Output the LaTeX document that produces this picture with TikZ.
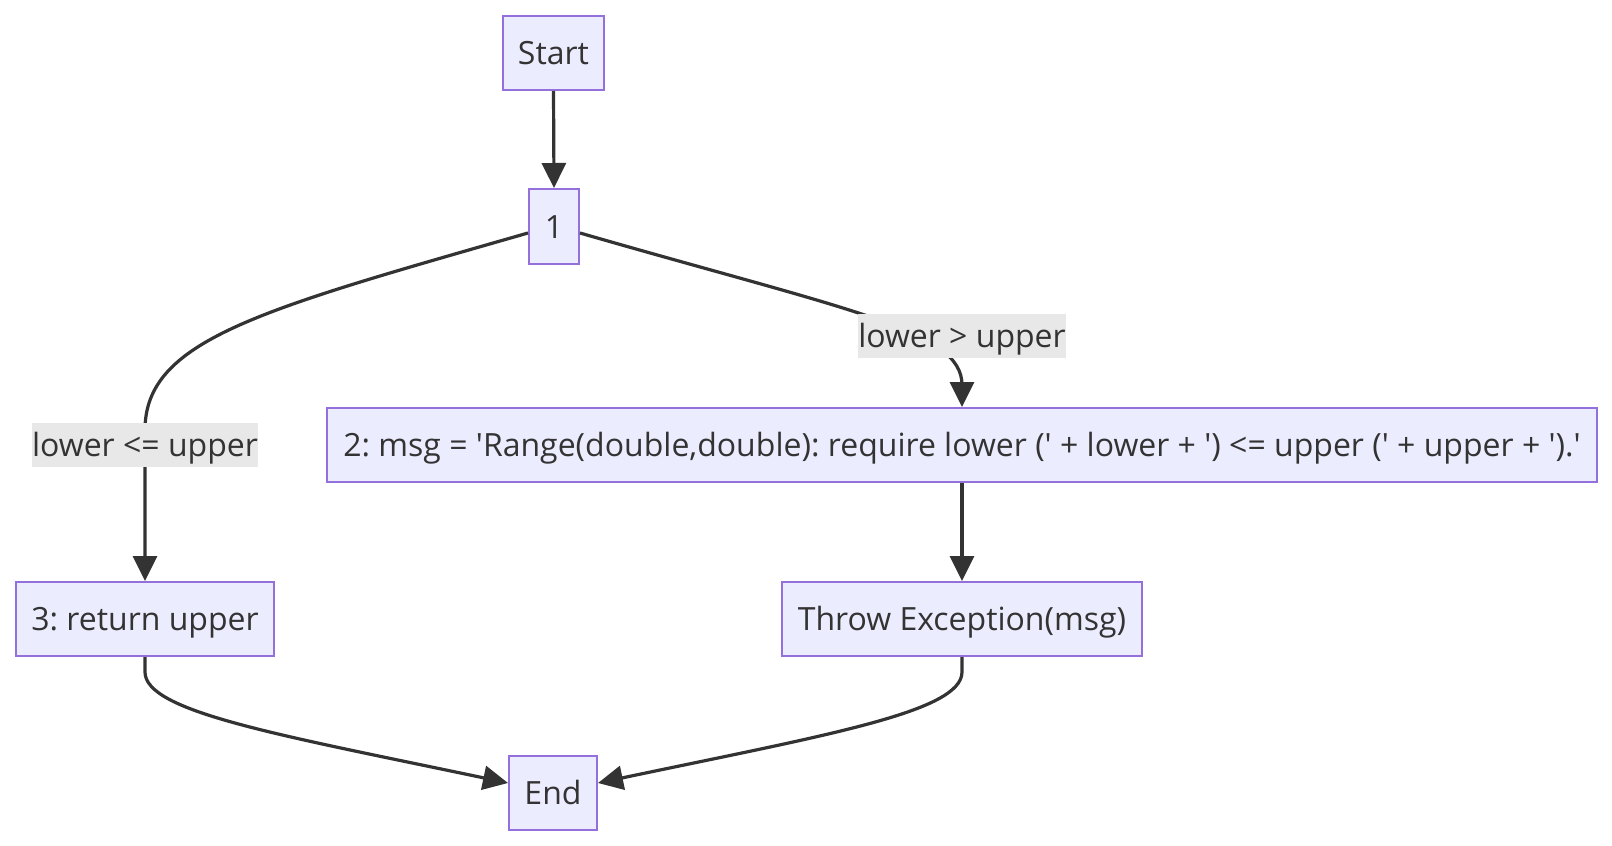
\documentclass[tikz,border=0pt]{standalone}
\usepackage{fontspec}
\setmainfont{Open Sans}[Ligatures=TeXOff]
\usetikzlibrary{arrows.meta,calc}
\definecolor{nodefill}{HTML}{ECECFF}
\definecolor{nodeborder}{HTML}{9370DB}
\definecolor{edgecol}{HTML}{333333}
\definecolor{labelbg}{HTML}{E8E8E8}
\definecolor{txt}{HTML}{333333}
\frenchspacing
\tikzset{
  fnt/.style={font=\fontsize{16pt}{19pt}\selectfont, text height=16.5pt, text depth=4.8pt},
  box/.style={draw=nodeborder, fill=nodefill, line width=1pt, inner sep=0pt,
    minimum height=37pt, text=txt, fnt},
  elabel/.style={fill=labelbg, inner sep=0pt, minimum height=22pt, text=txt, fnt},
  edge/.style={draw=edgecol, line width=1.6pt, -{Triangle[length=12.5pt,width=12pt]}},
}
\begin{document}
\begin{tikzpicture}[x=0.5pt,y=-0.5pt]
\useasboundingbox (0,0) rectangle (1612,846);
\fill[white] (0,0) rectangle (1612,846);
\node[box, minimum width=50.5pt] (start) at (553.5,53) {Start};
\node[box, minimum width=25pt, minimum height=37.5pt] (n1) at (554,226.5) {1};
\node[box, minimum width=635pt] (b2) at (962,445) {2: msg = 'Range(double,double): require lower (' + lower + ') <= upper (' + upper + ').'};
\node[box, minimum width=129pt] (b3) at (145,619) {3: return upper};
\node[box, minimum width=180pt] (thr) at (962,619) {Throw Exception(msg)};
\node[box, minimum width=44pt] (end) at (553,793) {End};
% edges
\draw[edge] (start.south) -- (n1.north);
\draw[edge] ($(n1.west)+(0,6.5)$) .. controls (260,310) and (145,340) .. (145,430) -- (b3.north);
\draw[edge] ($(n1.east)+(0,6.5)$) .. controls (850,311) and (962,330) .. (962,385) -- (b2.north);
\draw[edge] (b2.south) -- (thr.north);
\draw[edge] (b3.south) -- (145,672) .. controls (145,712) and (280,735) .. ($(end.west)+(0,-10)$);
\draw[edge] (thr.south) -- (962,672) .. controls (962,712) and (826,735) .. ($(end.east)+(0,-10)$);
% labels
\node[elabel, minimum width=113pt] (lle) at (145,445) {lower <= upper};
\node[elabel, minimum width=104pt] (lgt) at (962,336) {lower > upper};
\end{tikzpicture}
\end{document}
